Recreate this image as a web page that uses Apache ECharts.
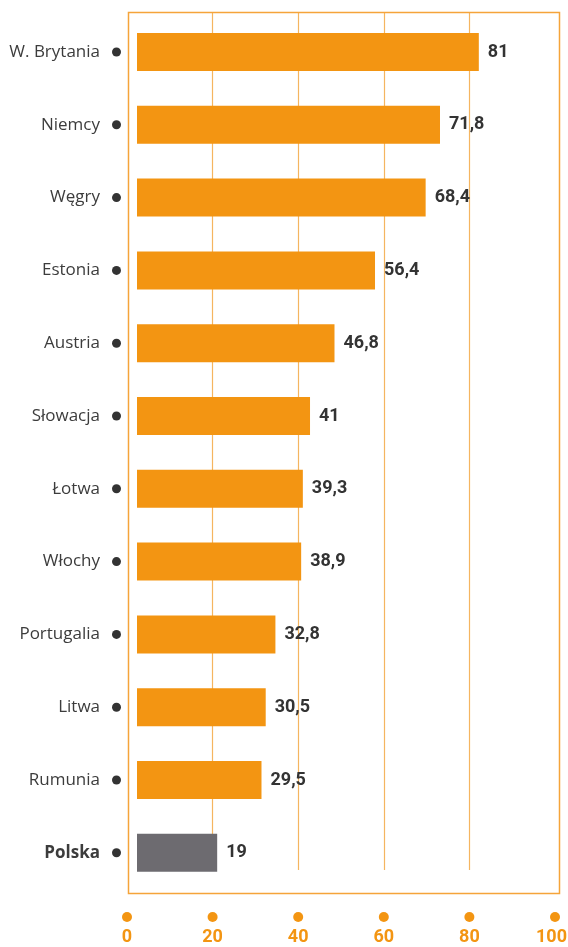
<!DOCTYPE html>
<html>
<head>
<meta charset="utf-8">
<script src="https://cdn.jsdelivr.net/npm/echarts@6/dist/echarts.min.js"></script>
<style>html,body{margin:0;padding:0;background:#fff;}#c{width:568px;height:947px;}</style>
</head>
<body>
<div id="c"></div>
<script>
const categories = ['W. Brytania','Niemcy','Węgry','Estonia','Austria','Słowacja','Łotwa','Włochy','Portugalia','Litwa','Rumunia','Polska'];
const values = [81, 71.8, 68.4, 56.4, 46.8, 41, 39.3, 38.9, 32.8, 30.5, 29.5, 19];
const tickValues = [0, 20, 40, 60, 80, 100];
const highlight = 'Polska';

const ORANGE = '#f39512';
const GREY = '#6d6b70';
const NUMFONT = "Roboto, sans-serif";

const chart = echarts.init(document.getElementById('c'));
chart.setOption({
  animation: false,
  grid: [
    { left: 127, right: 13, top: 12, bottom: 77, outerBoundsMode: 'none', containLabel: false },
    { left: 137, right: 9, top: 15.6, height: 873.6, outerBoundsMode: 'none', containLabel: false }
  ],
  xAxis: [
    {
      gridIndex: 0, type: 'value', min: 0, max: 100, interval: 20,
      axisLine: { show: false }, axisTick: { show: false },
      splitLine: { show: true, lineStyle: { color: ['transparent', '#f5b560', '#f5b560', '#f5b560', '#f5b560', 'transparent'], width: 1.2 } },
      axisLabel: {
        margin: 42, showMinLabel: true, showMaxLabel: true, hideOverlap: false,
        formatter: v => tickValues.indexOf(v) >= 0 ? '{d|}\n{' + (v === 100 ? 'm' : 'n') + '|' + v + '}' : '',
        rich: {
          d: { width: 10, height: 10, lineHeight: 10, borderRadius: 5, backgroundColor: ORANGE, align: 'center' },
          n: { fontSize: 18, fontWeight: 'bold', color: ORANGE, fontFamily: NUMFONT, lineHeight: 31, align: 'center' },
          m: { fontSize: 18, fontWeight: 'bold', color: ORANGE, fontFamily: NUMFONT, lineHeight: 31, align: 'center', padding: [0, 7, 0, 0] }
        }
      }
    },
    { gridIndex: 1, type: 'value', min: 0, max: 100, show: false, splitLine: { show: false } }
  ],
  yAxis: [
    { gridIndex: 0, type: 'value', show: false, splitLine: { show: false } },
    {
      gridIndex: 1, type: 'category', data: categories, inverse: true,
      axisLine: { show: false }, axisTick: { show: false },
      axisLabel: {
        margin: 16,
        formatter: v => '{' + (v === highlight ? 'b' : 'n') + '|' + v + '}{s|}{d|}',
        rich: {
          n: { fontSize: 17, color: '#3c3c3c', fontFamily: "'Open Sans', sans-serif" },
          b: { fontSize: 17, color: '#3c3c3c', fontWeight: 'bold', fontFamily: "'Open Sans', sans-serif" },
          s: { width: 12 },
          d: { width: 9, height: 9, borderRadius: 4.5, backgroundColor: '#333' }
        }
      }
    }
  ],
  graphic: [
    { type: 'rect', shape: { x: 128.5, y: 12.5, width: 431, height: 881 }, style: { fill: 'none', stroke: '#f5a43a', lineWidth: 1.5 }, z: 10 }
  ],
  series: [
    {
      type: 'bar', xAxisIndex: 1, yAxisIndex: 1, barWidth: 38,
      data: values,
      itemStyle: { color: p => p.name === highlight ? GREY : ORANGE },
      label: {
        show: true, position: 'right', distance: 9,
        formatter: p => String(p.value).replace('.', ','),
        fontSize: 18, fontWeight: 'bold', color: '#333', fontFamily: NUMFONT
      }
    }
  ]
});
</script>
</body>
</html>
